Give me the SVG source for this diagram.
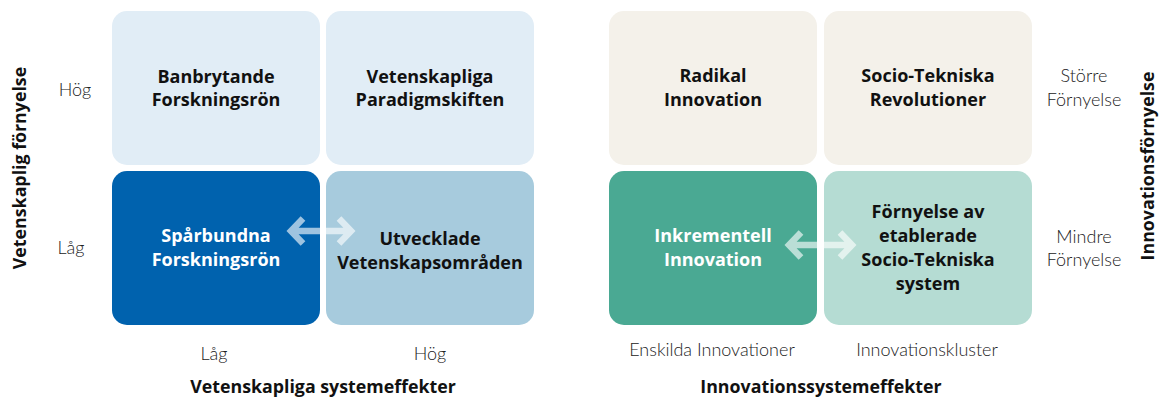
<svg xmlns="http://www.w3.org/2000/svg" width="1160" height="398" viewBox="0 0 1160 398">
<style>
.t{font-family:"Open Sans",Lato,"Liberation Sans",sans-serif;font-weight:700;font-size:18px;text-anchor:middle;fill:#111}
.w{fill:#fff}
.l{font-family:Lato,"Open Sans","Liberation Sans",sans-serif;font-weight:300;font-size:18px;text-anchor:middle;fill:#222}
.ax{font-family:"Open Sans",Lato,"Liberation Sans",sans-serif;font-weight:700;font-size:17.8px;text-anchor:middle;fill:#111}
.arr{fill:none;stroke:#fff;stroke-width:6.5;opacity:0.62}
</style>
<rect width="1160" height="398" fill="#fff"/>
<g id="n1"><rect x="112" y="11" width="208" height="154" rx="15" fill="#e1edf6"/><text class="t" x="216" y="83">Banbrytande</text><text class="t" x="216" y="106">Forskningsrön</text></g>
<g id="n2"><rect x="326" y="11" width="208" height="154" rx="15" fill="#e1edf6"/><text class="t" x="430" y="83">Vetenskapliga</text><text class="t" x="430" y="106">Paradigmskiften</text></g>
<g id="n3"><rect x="112" y="171" width="208" height="154" rx="15" fill="#0062ae"/><text class="t w" x="216" y="242">Spårbundna</text><text class="t w" x="216" y="266">Forskningsrön</text></g>
<g id="n4"><rect x="326" y="171" width="208" height="154" rx="15" fill="#a7cbdd"/><text class="t" x="430" y="245">Utvecklade</text><text class="t" x="430" y="269">Vetenskapsområden</text></g>
<g id="n5"><rect x="609" y="11" width="208" height="154" rx="15" fill="#f4f1ea"/><text class="t" x="713" y="82">Radikal</text><text class="t" x="713" y="106">Innovation</text></g>
<g id="n6"><rect x="824" y="11" width="208" height="154" rx="15" fill="#f4f1ea"/><text class="t" x="928" y="82">Socio-Tekniska</text><text class="t" x="928" y="106">Revolutioner</text></g>
<g id="n7"><rect x="609" y="171" width="208" height="154" rx="15" fill="#4aa993"/><text class="t w" x="713" y="242">Inkrementell</text><text class="t w" x="713" y="266">Innovation</text></g>
<g id="n8"><rect x="824" y="171" width="208" height="154" rx="15" fill="#b5dcd3"/><text class="t" x="928" y="218">Förnyelse av</text><text class="t" x="928" y="242">etablerade</text><text class="t" x="928" y="266">Socio-Tekniska</text><text class="t" x="928" y="290">system</text></g>
<g id="connectors">
<path class="arr" d="M293,231 H350 M303,218.5 L291,231 L303,243.5 M339,218.5 L351,231 L339,243.5"/>
<path class="arr" d="M791,245 H851 M801,232.5 L789,245 L801,257.5 M840,232.5 L852,245 L840,257.5"/>
</g>
<g id="labels">
<text class="l" x="75" y="96">Hög</text>
<text class="l" x="71" y="254">Låg</text>
<text class="l" x="214" y="360">Låg</text>
<text class="l" x="430" y="360">Hög</text>
<text class="ax" x="323" y="393">Vetenskapliga systemeffekter</text>
<text class="ax" transform="translate(26,168) rotate(-90)">Vetenskaplig förnyelse</text>
<text class="l" x="1084" y="82">Större</text>
<text class="l" x="1084" y="106">Förnyelse</text>
<text class="l" x="1084" y="243">Mindre</text>
<text class="l" x="1084" y="266">Förnyelse</text>
<text class="l" x="712" y="356">Enskilda Innovationer</text>
<text class="l" x="927" y="356">Innovationskluster</text>
<text class="ax" x="821" y="393">Innovationssystemeffekter</text>
<text class="ax" transform="translate(1154,166) rotate(-90)">Innovationsförnyelse</text>
</g>
</svg>
